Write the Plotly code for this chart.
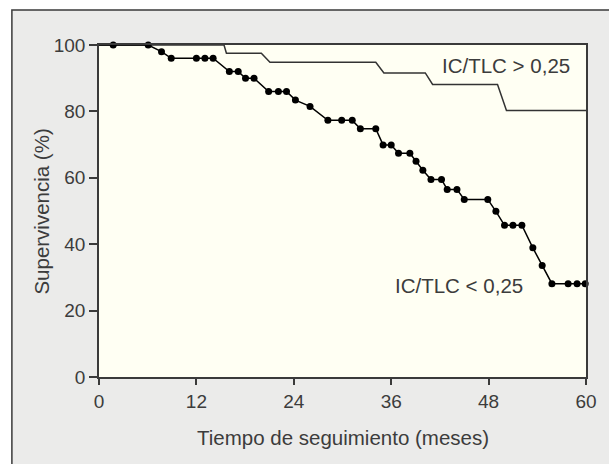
import plotly.graph_objects as go

# Lower group (IC/TLC < 0,25): censoring/event points
low_t = [1.75, 6.06, 7.7, 8.9, 12.0, 13.05, 14.06, 16.06, 17.15, 18.05, 19.1, 20.9, 22.1, 23.1,
         24.2, 26.0, 28.2, 29.9, 31.2, 32.2, 34.1, 35.0, 36.0, 36.9, 38.3, 39.06, 39.9, 40.9,
         42.2, 42.9, 44.1, 45.0, 47.9, 48.9, 49.96, 51.0, 52.1, 53.45, 54.6, 55.8, 57.8, 58.9, 59.9]
low_s = [100, 100, 98, 96, 96, 96, 96, 92, 92, 90, 90, 86, 86, 86,
         83.4, 81.5, 77.3, 77.3, 77.3, 74.8, 74.8, 69.9, 69.9, 67.4, 67.4, 65, 62.3, 59.5,
         59.5, 56.5, 56.5, 53.5, 53.5, 49.9, 45.7, 45.7, 45.7, 38.9, 33.6, 28.1, 28.1, 28.1, 28.1]

# Upper group (IC/TLC > 0,25)
high_t = [0, 15.4, 15.7, 20.0, 21.06, 34.1, 35.1, 40.2, 41.1, 49.1, 50.2, 60]
high_s = [100, 100, 97.5, 97.5, 94.8, 94.8, 91.6, 91.6, 88.1, 88.1, 80.3, 80.3]

x_ticks = [0, 12, 24, 36, 48, 60]
y_ticks = [0, 20, 40, 60, 80, 100]

FONT = "Liberation Sans, Arial, sans-serif"
TXT = "#3c3c3c"
FS = 20.5
TFS = 19

fig = go.Figure()
fig.add_trace(go.Scatter(x=high_t, y=high_s, mode="lines",
                         line=dict(color="#333333", width=1.5), hoverinfo="skip"))
fig.add_trace(go.Scatter(x=[0] + low_t, y=[100] + low_s, mode="lines",
                         line=dict(color="#000000", width=1.5), hoverinfo="skip"))
fig.add_trace(go.Scatter(x=low_t, y=low_s, mode="markers",
                         marker=dict(color="#000000", size=7), hoverinfo="skip", cliponaxis=False))

L, R, T, B = 99, 18, 45, 87
W, H = 609, 464
pw, ph = W - L - R, H - T - B

def px2x(px):
    return (px - L) / pw

def py2y(py):
    return (H - B - py) / ph

shapes = [
    dict(type="rect", xref="paper", yref="paper", layer="below",
         x0=px2x(11), x1=px2x(W + 30), y0=py2y(H + 30), y1=py2y(10),
         fillcolor="#ebebea", line=dict(color="#3a3a3a", width=1.5)),
    dict(type="rect", xref="paper", yref="paper", layer="below",
         x0=0, x1=1, y0=0, y1=1, fillcolor="#fffff3", line=dict(width=0)),
]

annotations = [
    dict(x=50.2, y=93.7, xref="x", yref="y", text="IC/TLC &gt; 0,25", showarrow=False,
         xanchor="center", yanchor="middle", font=dict(family=FONT, size=FS, color=TXT)),
    dict(x=44.3, y=27.7, xref="x", yref="y", text="IC/TLC &lt; 0,25", showarrow=False,
         xanchor="center", yanchor="middle", font=dict(family=FONT, size=FS, color=TXT)),
    dict(x=px2x(345), y=py2y(437), xref="paper", yref="paper", text="Tiempo de seguimiento (meses)",
         showarrow=False, xanchor="center", yanchor="middle",
         font=dict(family=FONT, size=FS, color=TXT)),
    dict(x=px2x(40), y=py2y(212), xref="paper", yref="paper", text="Supervivencia (%)",
         textangle=-90, showarrow=False, xanchor="center", yanchor="middle",
         font=dict(family=FONT, size=FS, color=TXT)),
]

fig.update_layout(
    width=W, height=H, margin=dict(l=L, r=R, t=T, b=B),
    paper_bgcolor="#ffffff", plot_bgcolor="#fffff3",
    showlegend=False, shapes=shapes, annotations=annotations,
    font=dict(family=FONT, size=TFS, color=TXT),
)
fig.update_xaxes(range=[0, 60], tickvals=x_ticks, ticktext=[str(v) for v in x_ticks],
                 showgrid=False, zeroline=False, showline=True, linecolor="#3a3a3a",
                 linewidth=1.5, mirror=True, ticks="outside", ticklen=6, tickwidth=1.5,
                 tickcolor="#3a3a3a", tickfont=dict(family=FONT, size=TFS, color=TXT))
fig.update_yaxes(range=[0, 100], tickvals=y_ticks, ticktext=[str(v) for v in y_ticks],
                 showgrid=False, zeroline=False, showline=True, linecolor="#3a3a3a",
                 linewidth=1.5, mirror=True, ticks="outside", ticklen=8, tickwidth=1.5,
                 tickcolor="#3a3a3a", tickfont=dict(family=FONT, size=TFS, color=TXT))

fig.write_html("out.html")
